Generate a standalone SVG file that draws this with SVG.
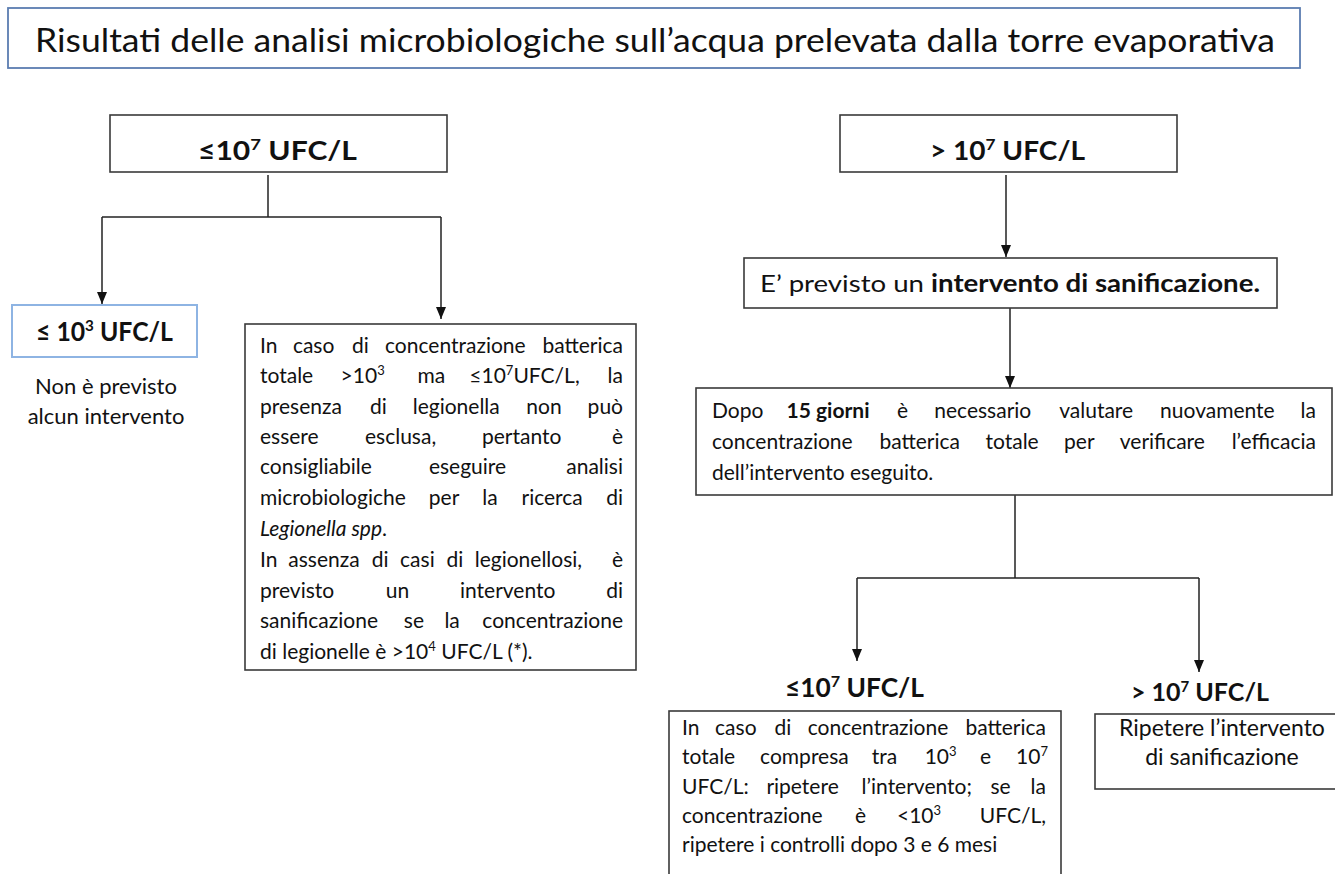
<svg xmlns="http://www.w3.org/2000/svg" width="1335" height="874" viewBox="0 0 1335 874">
<style>
.t{font-family:Lato,"Liberation Sans",sans-serif;fill:#111}
.body{font-size:21px}
.lbl{font-size:26px;font-weight:bold}
.box{fill:#fff;stroke:#3a3a3a;stroke-width:1.6}
.conn{stroke:#222;stroke-width:1.5;fill:none}
.b{font-weight:bold}
.i{font-style:italic}
.e{text-anchor:end}
</style>
<defs>
<marker id="ah" markerWidth="12" markerHeight="10" refX="12" refY="5" orient="auto" markerUnits="userSpaceOnUse"><path d="M0,0 L12,5 L0,10 z" fill="#111"/></marker>
</defs>
<rect width="1335" height="874" fill="#fff"/>

<g id="title">
<rect x="8" y="8" width="1292" height="60" fill="#fff" stroke="#5b7db1" stroke-width="1.8"/>
<text class="t" x="35" y="52" font-size="32" textLength="1240" lengthAdjust="spacingAndGlyphs">Risultati delle analisi microbiologiche sull’acqua  prelevata dalla torre evaporativa</text>
</g>

<g id="connectors">
<line class="conn" x1="268" y1="175" x2="268" y2="217"/>
<path class="conn" d="M102,217 H441"/>
<line class="conn" x1="102" y1="217" x2="102" y2="304" marker-end="url(#ah)"/>
<line class="conn" x1="441" y1="217" x2="441" y2="319" marker-end="url(#ah)"/>
<line class="conn" x1="1006" y1="175" x2="1006" y2="257" marker-end="url(#ah)"/>
<line class="conn" x1="1010" y1="308" x2="1010" y2="388" marker-end="url(#ah)"/>
<line class="conn" x1="1015" y1="495" x2="1015" y2="578"/>
<path class="conn" d="M857,578 H1199"/>
<line class="conn" x1="857" y1="578" x2="857" y2="661" marker-end="url(#ah)"/>
<line class="conn" x1="1199" y1="578" x2="1199" y2="672" marker-end="url(#ah)"/>
</g>

<g id="n_le7">
<rect class="box" x="110" y="115" width="337" height="57"/>
<text class="t lbl" x="198" y="160" textLength="159" lengthAdjust="spacingAndGlyphs">≤10<tspan dy="-10" font-size="16">7</tspan><tspan dy="10"> UFC/L</tspan></text>
</g>

<g id="n_gt7">
<rect class="box" x="840" y="115" width="337" height="57"/>
<text class="t lbl" x="930" y="160" textLength="155" lengthAdjust="spacingAndGlyphs">&gt; 10<tspan dy="-10" font-size="16">7</tspan><tspan dy="10"> UFC/L</tspan></text>
</g>

<g id="n_le3">
<rect x="12" y="305" width="185" height="52" fill="#fff" stroke="#8eb4e3" stroke-width="2"/>
<text class="t lbl" x="36" y="341" textLength="137" lengthAdjust="spacingAndGlyphs">≤ 10<tspan dy="-10" font-size="16">3</tspan><tspan dy="10"> UFC/L</tspan></text>
<text class="t" x="106" y="394" font-size="22" text-anchor="middle">Non è previsto</text>
<text class="t" x="106" y="424" font-size="22" text-anchor="middle">alcun intervento</text>
</g>

<g id="n_mid">
<rect class="box" x="245" y="324" width="391" height="346"/>
<text class="t body" y="353"><tspan x="260">In </tspan><tspan x="292.9">caso </tspan><tspan x="352.1">di </tspan><tspan x="385">concentrazione </tspan><tspan x="623" class="e">batterica</tspan></text>
<text class="t body" y="383"><tspan x="260">totale </tspan><tspan x="340.6">&gt;10</tspan><tspan dy="-8" font-size="13">3</tspan><tspan x="417.5" dy="8">ma </tspan><tspan x="469.3">≤10</tspan><tspan dy="-8" font-size="13">7</tspan><tspan dy="8">UFC/L, </tspan><tspan x="623" class="e">la</tspan></text>
<text class="t body" y="414"><tspan x="260">presenza </tspan><tspan x="370">di </tspan><tspan x="412.7">legionella </tspan><tspan x="526.3">non </tspan><tspan x="623" class="e">può</tspan></text>
<text class="t body" y="444"><tspan x="260">essere </tspan><tspan x="365">esclusa, </tspan><tspan x="482">pertanto </tspan><tspan x="623" class="e">è</tspan></text>
<text class="t body" y="474"><tspan x="260">consigliabile </tspan><tspan x="428.9">eseguire </tspan><tspan x="623" class="e">analisi</tspan></text>
<text class="t body" y="505"><tspan x="260">microbiologiche </tspan><tspan x="428.8">per </tspan><tspan x="482.3">la </tspan><tspan x="521.5">ricerca </tspan><tspan x="623" class="e">di</tspan></text>
<text class="t body i" x="260" y="536">Legionella spp<tspan font-style="normal">.</tspan></text>
<text class="t body" y="567"><tspan x="260">In </tspan><tspan x="288.3">assenza </tspan><tspan x="371.8">di </tspan><tspan x="400.1">casi </tspan><tspan x="446.4">di </tspan><tspan x="474.7">legionellosi, </tspan><tspan x="623" class="e">è</tspan></text>
<text class="t body" y="598"><tspan x="260">previsto </tspan><tspan x="385.8">un </tspan><tspan x="460">intervento </tspan><tspan x="623" class="e">di</tspan></text>
<text class="t body" y="628"><tspan x="260">sanificazione </tspan><tspan x="403.8">se </tspan><tspan x="444.4">la </tspan><tspan x="623" class="e">concentrazione</tspan></text>
<text class="t body" x="260" y="659">di legionelle è  &gt;10<tspan dy="-8" font-size="13">4</tspan><tspan dy="8"> UFC/L (*).</tspan></text>
</g>

<g id="n_san">
<rect class="box" x="744" y="258" width="533" height="50"/>
<text class="t" x="760" y="292" font-size="24" textLength="500" lengthAdjust="spacingAndGlyphs">E’ previsto un <tspan class="b">intervento di sanificazione.</tspan></text>
</g>

<g id="n_dopo">
<rect class="box" x="696" y="388" width="636" height="107"/>
<text class="t body" y="418"><tspan x="712">Dopo </tspan><tspan x="786.5" class="b">15 giorni </tspan><tspan x="897">è </tspan><tspan x="934.3">necessario </tspan><tspan x="1059.2">valutare </tspan><tspan x="1160.1">nuovamente </tspan><tspan x="1316" class="e">la</tspan></text>
<text class="t body" y="449"><tspan x="712">concentrazione </tspan><tspan x="879.4">batterica </tspan><tspan x="985.5">totale </tspan><tspan x="1064.1">per </tspan><tspan x="1119.8">verificare </tspan><tspan x="1316" class="e">l’efficacia</tspan></text>
<text class="t body" x="712" y="480">dell’intervento eseguito.</text>
</g>

<g id="n_le7b">
<text class="t lbl" x="785" y="697" textLength="139" lengthAdjust="spacingAndGlyphs">≤10<tspan dy="-10" font-size="16">7</tspan><tspan dy="10"> UFC/L</tspan></text>
<rect class="box" x="669" y="711" width="392" height="175"/>
<text class="t body" y="735"><tspan x="682">In </tspan><tspan x="715.1">caso </tspan><tspan x="774.6">di </tspan><tspan x="807.7">concentrazione </tspan><tspan x="1046" class="e">batterica</tspan></text>
<text class="t body" y="764"><tspan x="682">totale </tspan><tspan x="760.1">compresa </tspan><tspan x="871.8">tra </tspan><tspan x="924.7">10</tspan><tspan dy="-8" font-size="13">3</tspan><tspan x="980" dy="8">e </tspan><tspan x="1016">10</tspan><tspan dy="-8" font-size="13">7</tspan></text>
<text class="t body" y="794"><tspan x="682">UFC/L: </tspan><tspan x="766.4">ripetere </tspan><tspan x="861.6">l’intervento; </tspan><tspan x="990.4">se </tspan><tspan x="1046" class="e">la</tspan></text>
<text class="t body" y="823"><tspan x="682">concentrazione </tspan><tspan x="854.9">è </tspan><tspan x="897">&lt;10</tspan><tspan dy="-8" font-size="13">3</tspan><tspan x="1046" dy="8" class="e">UFC/L,</tspan></text>
<text class="t body" x="682" y="852">ripetere i controlli dopo 3 e 6 mesi</text>
</g>

<g id="n_gt7b">
<text class="t" x="1200" y="701" font-size="25" font-weight="bold" text-anchor="middle">&gt; 10<tspan dy="-9" font-size="15">7</tspan><tspan dy="9"> UFC/L</tspan></text>
<rect class="box" x="1095" y="714" width="250" height="75"/>
<text class="t" x="1222" y="736" font-size="23" text-anchor="middle">Ripetere l’intervento</text>
<text class="t" x="1222" y="765" font-size="23" text-anchor="middle">di sanificazione</text>
</g>
</svg>
